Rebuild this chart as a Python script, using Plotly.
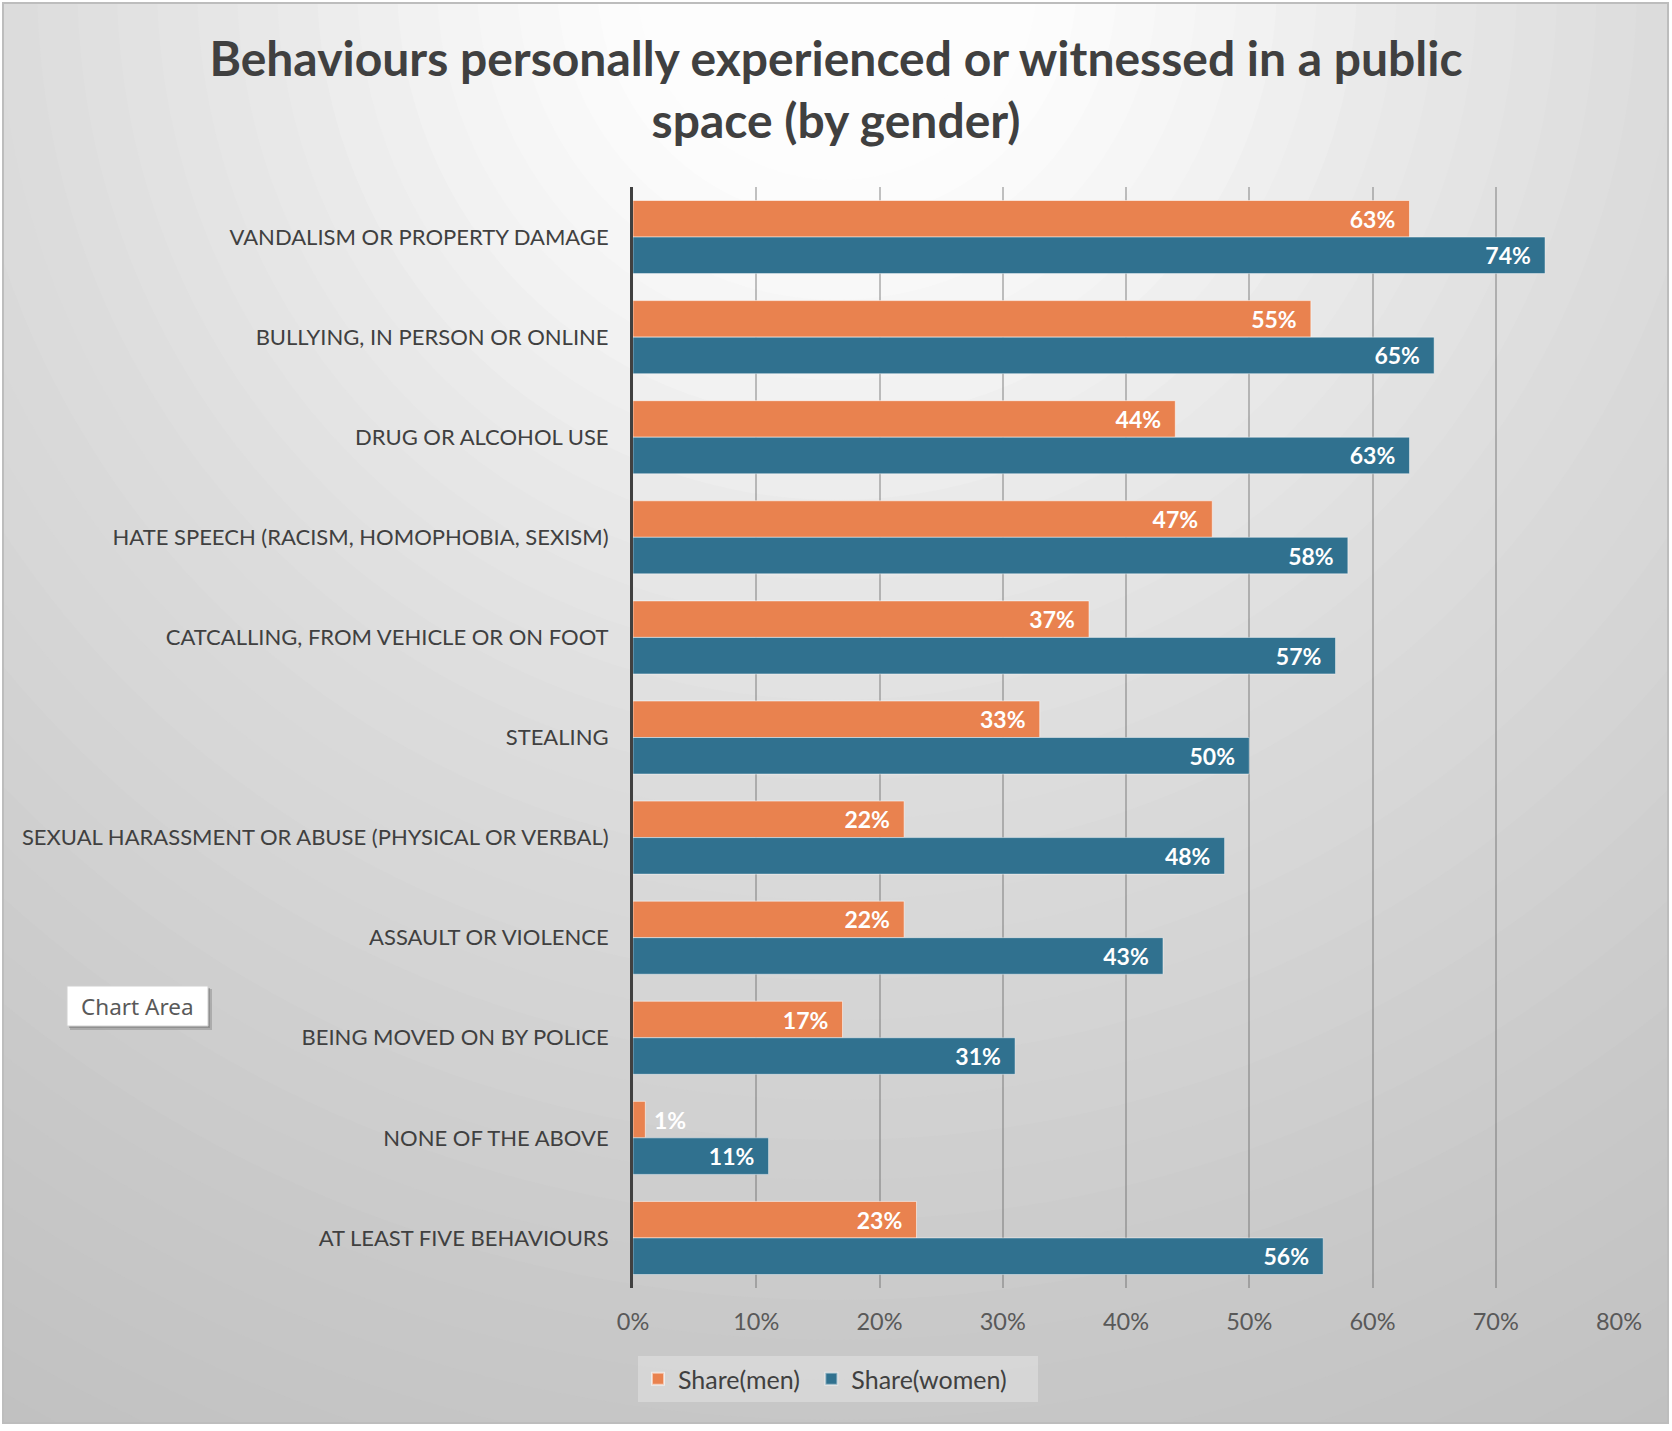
import plotly.graph_objects as go

categories = [
    "VANDALISM OR PROPERTY DAMAGE",
    "BULLYING, IN PERSON OR ONLINE",
    "DRUG OR ALCOHOL USE",
    "HATE SPEECH (RACISM, HOMOPHOBIA, SEXISM)",
    "CATCALLING, FROM VEHICLE OR ON FOOT",
    "STEALING",
    "SEXUAL HARASSMENT OR ABUSE (PHYSICAL OR VERBAL)",
    "ASSAULT OR VIOLENCE",
    "BEING MOVED ON BY POLICE",
    "NONE OF THE ABOVE",
    "AT LEAST FIVE BEHAVIOURS",
]
share_men = [0.63, 0.55, 0.44, 0.47, 0.37, 0.33, 0.22, 0.22, 0.17, 0.01, 0.23]
share_women = [0.74, 0.65, 0.63, 0.58, 0.57, 0.50, 0.48, 0.43, 0.31, 0.11, 0.56]
x_ticks = [0, 0.1, 0.2, 0.3, 0.4, 0.5, 0.6, 0.7, 0.8]

W, H = 1672, 1431
ML, MR, MT, MB = 633, 53, 187, 143
PW, PH = W - ML - MR, H - MT - MB

def px(x):
    return (x - ML) / PW

def py(y):
    return (H - MB - y) / PH

ORANGE = "#E9824F"
BLUE = "#30718F"
NB = "\u00a0"
LBL = dict(color="white", size=23, family="Lato", weight="bold")

def labels(vals):
    tpos, ttpl = [], []
    for v in vals:
        if v < 0.05:
            tpos.append("outside")
            ttpl.append(NB + "%{x:.0%}")
        else:
            tpos.append("inside")
            ttpl.append("%{x:.0%}" + NB + NB)
    return tpos, ttpl

mpos, mtpl = labels(share_men)
wpos, wtpl = labels(share_women)

fig = go.Figure()
fig.add_trace(go.Bar(
    name="Share(men)" + NB, y=categories, x=share_men, orientation="h",
    marker=dict(color=ORANGE, line=dict(color="rgba(255,255,255,0.55)", width=1)),
    textposition=mpos, texttemplate=mtpl, insidetextanchor="end",
    textfont=LBL, outsidetextfont=LBL,
    constraintext="none", cliponaxis=False,
))
fig.add_trace(go.Bar(
    name="Share(women)" + NB * 4, y=categories, x=share_women, orientation="h",
    marker=dict(color=BLUE, line=dict(color="rgba(255,255,255,0.45)", width=1)),
    textposition=wpos, texttemplate=wtpl, insidetextanchor="end",
    textfont=LBL, outsidetextfont=LBL,
    constraintext="none", cliponaxis=False,
))

# radial background gradient (concentric circles)
shapes = []
cx, cy = 837, -20
stops_r = [0, 250, 400, 600, 850, 1100, 1400, 1700, 2000]
stops_c = [255, 252, 244, 232, 220, 211, 200, 193, 189]

def gray_at(r):
    for i in range(len(stops_r) - 1):
        if stops_r[i] <= r <= stops_r[i + 1]:
            t = (r - stops_r[i]) / (stops_r[i + 1] - stops_r[i])
            return stops_c[i] + t * (stops_c[i + 1] - stops_c[i])
    return stops_c[-1]

r = 2000
while r >= 150:
    g = int(round(gray_at(r)))
    shapes.append(dict(
        type="circle", xref="paper", yref="paper", layer="below",
        x0=px(cx - r), x1=px(cx + r), y0=py(cy + r), y1=py(cy - r),
        fillcolor=f"rgb({g},{g},{g})", line=dict(width=0),
    ))
    r -= 40

def rect(x0, y0, x1, y1, **kw):
    d = dict(type="rect", xref="paper", yref="paper", layer="below",
             x0=px(x0), x1=px(x1), y0=py(y1), y1=py(y0))
    d.update(kw)
    return d

# white surroundings and chart border
for (x0, y0, x1, y1) in [(0, 0, W, 3), (0, 1424, W, H), (0, 0, 3, H), (1669, 0, W, H)]:
    shapes.append(rect(x0, y0, x1, y1, fillcolor="white", line=dict(width=0)))
shapes.append(rect(3, 3, 1668, 1423, fillcolor="rgba(0,0,0,0)",
                   line=dict(color="#bdbdbd", width=2)))
# tooltip box with soft shadow
shapes.append(rect(70, 989, 212, 1030, fillcolor="rgba(110,110,110,0.35)", line=dict(width=0)))
shapes.append(rect(69, 988, 210, 1028, fillcolor="rgba(110,110,110,0.45)", line=dict(width=0)))
shapes.append(rect(67, 986, 208, 1026, fillcolor="white", line=dict(color="#d0d0d0", width=1)))

fig.update_layout(
    width=W, height=H,
    margin=dict(l=ML, r=MR, t=MT, b=MB, pad=0),
    paper_bgcolor="white", plot_bgcolor="rgba(0,0,0,0)",
    font=dict(family="Lato", color="#404040"),
    title=dict(
        text="<b>Behaviours personally experienced or witnessed in a public<br>space (by gender)</b>",
        x=0.5, xanchor="center", xref="container",
        y=1 - 76 / H, yanchor="top", yref="container",
        font=dict(size=48, color="#404040", family="Lato"),
    ),
    barmode="group", bargap=0.27, bargroupgap=0,
    showlegend=True,
    legend=dict(
        orientation="h", x=px(638), xanchor="left", y=py(1356), yanchor="top",
        bgcolor="rgba(255,255,255,0.28)", font=dict(size=25, color="#404040"),
        itemsizing="constant", traceorder="normal",
    ),
    xaxis=dict(
        range=[0, 0.8], tickvals=x_ticks, tickformat=".0%",
        showgrid=True, gridcolor="rgba(95,95,95,0.38)", gridwidth=1.5,
        zeroline=False, showline=False, ticks="",
        tickfont=dict(size=23.5, color="#595959"), ticklabelstandoff=17,
    ),
    yaxis=dict(
        autorange="reversed", showgrid=False, zeroline=False,
        showline=True, linecolor="#404040", linewidth=3, ticks="",
        tickfont=dict(size=22, color="#404040"), ticklabelstandoff=17,
    ),
    shapes=shapes,
    annotations=[dict(
        text="Chart Area", xref="paper", yref="paper",
        x=px(137.5), y=py(1006), xanchor="center", yanchor="middle",
        showarrow=False, font=dict(size=22.5, color="#595959", family="Noto Sans"),
    )],
)

fig.write_html("out.html")
